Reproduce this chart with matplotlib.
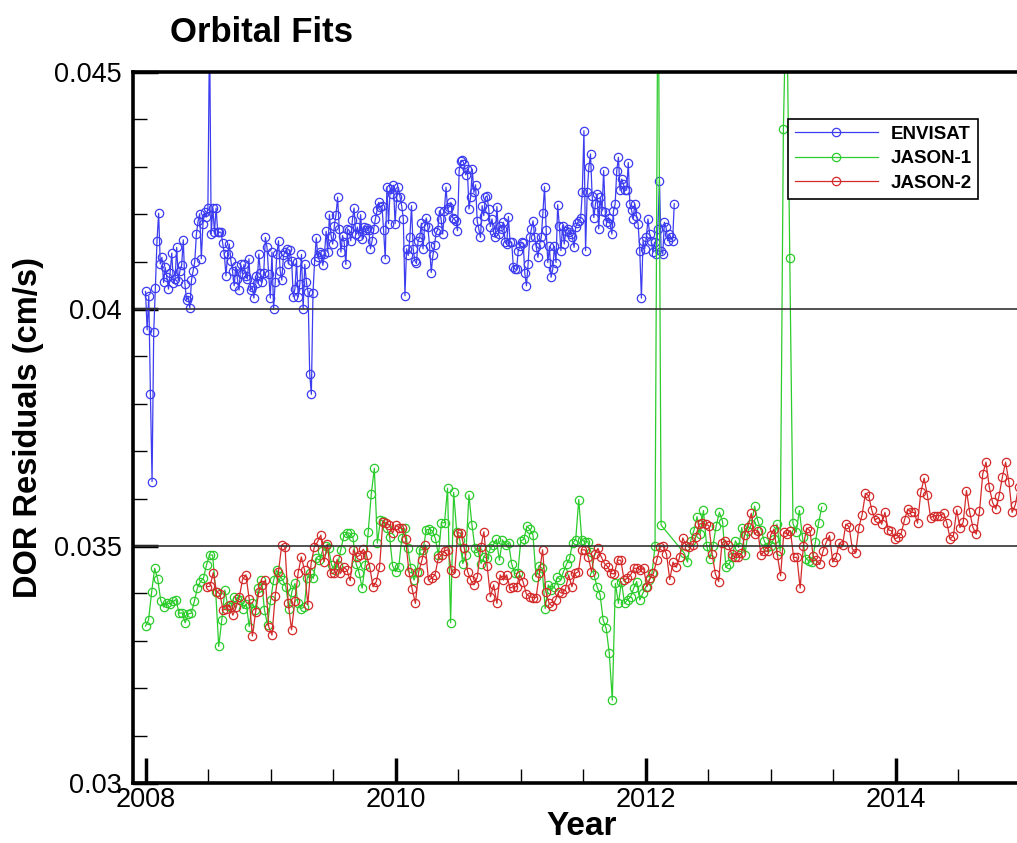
import matplotlib
matplotlib.use("Agg")
import matplotlib.pyplot as plt
import numpy as np
from matplotlib.ticker import MultipleLocator, FuncFormatter

plt.rcParams['font.family'] = ['Liberation Sans', 'DejaVu Sans']

# DOR residuals in units of 1e-5 cm/s
envisat = [4037, 3956, 4027, 3820, 3636, 3951, 4044, 4144, 4202, 4095, 4109, 4056, 4088, 4067, 4042, 4077,
           4118, 4054, 4063, 4130, 4060, 4081, 4092, 4146, 4053, 4019, 4025, 4002, 4061, 4081, 4100, 4158,
           4185, 4201, 4106, 4180, 4204, 4194, 4213, 4600, 4158, 4213, 4162, 4213, 4162, 4162, 4162, 4139,
           4116, 4070, 4116, 4137, 4102, 4080, 4049, 4090, 4063, 4040, 4094, 4074, 4094, 4070, 4063, 4106,
           4040, 4046, 4023, 4070, 4054, 4116, 4076, 4056, 4077, 4151, 4130, 4074, 4023, 4120, 4000, 4056,
           4115, 4144, 4081, 4061, 4113, 4120, 4127, 4095, 4125, 4101, 4026, 4042, 4099, 4025, 4053, 4115,
           4000, 4094, 4056, 4035, 3863, 3820, 4034, 4102, 4150, 4109, 4120, 4116, 4092, 4116, 4164, 4120,
           4199, 4155, 4137, 4176, 4199, 4236, 4169, 4120, 4155, 4141, 4094, 4169, 4166, 4144, 4188, 4213,
           4158, 4173, 4155, 4199, 4148, 4173, 4166, 4171, 4166, 4127, 4144, 4169, 4190, 4208, 4225, 4215,
           4218, 4166, 4106, 4257, 4180, 4254, 4243, 4261, 4180, 4237,
           4257, 4236, 4218, 4190, 4028, 4127, 4113, 4151, 4218, 4127, 4102, 4096, 4144, 4151, 4181, 4127,
           4176, 4192, 4172, 4132, 4077, 4113, 4134, 4162, 4167, 4207, 4190, 4158, 4207, 4257, 4211, 4216,
           4225, 4193, 4190, 4185, 4165, 4292, 4313, 4314, 4306, 4283, 4295, 4211, 4236, 4295, 4246, 4262,
           4186, 4169, 4151, 4218, 4197, 4236, 4239, 4211, 4174, 4190, 4162, 4151, 4216, 4158, 4176, 4169,
           4183, 4141, 4137, 4195, 4141, 4141, 4089, 4084, 4084, 4123, 4132, 4141, 4139, 4075, 4049, 4095,
           4151, 4169, 4186, 4151, 4130, 4109, 4137, 4151, 4202, 4258, 4167, 4098, 4132, 4067, 4084, 4132,
           4098, 4220, 4176, 4123, 4176, 4137, 4164, 4169, 4162, 4158, 4151, 4130, 4174, 4181, 4186, 4192,
           4246, 4376, 4123, 4246, 4299, 4327, 4239, 4193, 4221, 4242, 4169, 4236, 4207, 4292, 4204, 4183,
           4193, 4179, 4158, 4207, 4221, 4292, 4320, 4250, 4274, 4264, 4250, 4251, 4309, 4221, 4209, 4190,
           4221, 4197, 4179, 4123, 4023, 4144, 4127, 4151, 4190, 4158, 4144, 4120, 4141, 4116,
           4169, 4271, 4123, 4116, 4183, 4172, 4144, 4158, 4151, 4144, 4222]

jason1_a = [3331, 3344, 3402, 3453, 3430, 3385, 3371, 3380, 3378, 3383, 3387, 3358, 3359, 3338, 3357, 3358,
            3383, 3411, 3425, 3432, 3460, 3481, 3481, 3404, 3288, 3344, 3407, 3373, 3371, 3393, 3389, 3387,
            3368, 3378, 3330, 3380, 3365, 3411, 3428, 3365, 3333, 3386, 3428, 3449, 3437, 3428, 3414, 3368,
            3404, 3421, 3379, 3368, 3371, 3432, 3442, 3432, 3474, 3470, 3490, 3500, 3495, 3460, 3449, 3460,
            3492, 3521, 3528, 3527, 3518, 3463, 3444, 3411, 3460, 3530, 3610, 3664, 3506, 3555, 3552, 3537,
            3520,
            3458, 3446, 3456, 3516, 3537, 3495, 3453, 3428, 3446, 3492, 3492, 3534, 3535, 3532, 3516, 3481,
            3549, 3549, 3622, 3338, 3613, 3530, 3513, 3463, 3481, 3608, 3544, 3495, 3488, 3463, 3477, 3474,
            3495, 3502, 3514, 3470, 3513, 3502, 3506, 3463, 3442, 3442, 3511, 3514, 3542, 3535, 3523, 3435,
            3458, 3453, 3368, 3418, 3407, 3414, 3435, 3428, 3446, 3462, 3474, 3507, 3513, 3598, 3513, 3509,
            3509, 3488, 3439, 3414, 3397, 3344, 3326, 3274, 3175, 3421, 3379, 3425, 3379, 3386, 3393, 3411,
            3425, 3386, 3400, 3414, 3428, 3442, 3500, 4800, 3544]

jason1_b = [3485, 3466, 3511, 3532, 3562, 3525, 3575, 3501, 3473, 3501, 3543, 3571, 3551, 3455, 3462, 3476,
            3511, 3497, 3539, 3482, 3532, 3546, 3584, 3553, 3534, 3511, 3497, 3501, 3515, 3546, 3490, 4380,
            4700, 4107, 3548, 3529, 3575, 3518, 3473, 3469, 3466, 3508, 3548, 3582]

jason2 = [3414, 3415, 3444, 3404, 3399, 3365, 3367, 3376, 3354, 3371, 3393, 3430, 3439, 3389, 3310, 3361,
          3404, 3418, 3428, 3330, 3312, 3395, 3446, 3502, 3498, 3379, 3323, 3383, 3442, 3477, 3449, 3376,
          3463, 3498, 3509, 3523, 3467, 3504, 3442, 3442, 3472, 3442, 3456, 3449, 3427, 3492, 3477, 3481,
          3493, 3481, 3455, 3414, 3425, 3456, 3551, 3548, 3544, 3527, 3544, 3539, 3537,
          3514, 3446, 3409, 3379, 3446, 3470, 3502, 3428, 3432, 3439, 3474, 3481, 3490, 3492, 3449, 3442,
          3528, 3527, 3495, 3446, 3428, 3418, 3435, 3497, 3530, 3458, 3393, 3418, 3379, 3439, 3428, 3439,
          3411, 3414, 3414, 3439, 3425, 3399, 3393, 3391, 3391, 3442, 3492, 3404, 3379, 3373, 3387, 3404,
          3400, 3409, 3439, 3414, 3442, 3446, 3492, 3492, 3477, 3446, 3484, 3495, 3477, 3463, 3456, 3442,
          3441, 3470, 3470, 3428, 3432, 3439, 3453, 3453, 3449, 3453, 3414, 3432, 3442, 3470, 3498,
          3499, 3483, 3429, 3466, 3455, 3476, 3517, 3501, 3497, 3502, 3520, 3546, 3548, 3546, 3543, 3483,
          3441, 3425, 3506, 3511, 3502, 3483, 3476, 3476, 3485, 3524, 3541, 3569, 3525, 3532, 3480, 3490,
          3489, 3524, 3536, 3481, 3437, 3529, 3525, 3532, 3476, 3476, 3411, 3501, 3538, 3532, 3478, 3470,
          3461, 3489, 3508, 3522, 3466, 3477, 3506, 3502, 3546, 3541, 3494, 3485, 3539, 3566, 3611, 3606,
          3575, 3555, 3560, 3546, 3571, 3534, 3532, 3515, 3518, 3527, 3555, 3578, 3571, 3571, 3548, 3613,
          3643, 3608, 3560, 3564, 3564, 3564, 3569, 3548, 3515, 3522, 3576, 3539, 3550, 3617, 3571, 3539,
          3525, 3573, 3652, 3677, 3624, 3592, 3578, 3606, 3645, 3677, 3636, 3571, 3587, 3625]

# time span (decimal year) covered by each series
envisat_span = (2008.0, 2012.23)
jason1_span_a = (2008.0, 2012.125)
jason1_span_b = (2012.31, 2013.41)
jason2_span = (2008.49, 2014.985)

t_env = np.linspace(envisat_span[0], envisat_span[1], len(envisat))
t_j1 = np.concatenate([np.linspace(jason1_span_a[0], jason1_span_a[1], len(jason1_a)),
                       np.linspace(jason1_span_b[0], jason1_span_b[1], len(jason1_b))])
t_j2 = np.linspace(jason2_span[0], jason2_span[1], len(jason2))
y_env = np.array(envisat) * 1e-5
y_j1 = np.array(jason1_a + jason1_b) * 1e-5
y_j2 = np.array(jason2) * 1e-5

fig = plt.figure(figsize=(10.17, 8.43), dpi=100)
ax = fig.add_axes([133 / 1017, 60 / 843, 887.5 / 1017, 711 / 843])

style = dict(lw=0.9, marker='o', ms=6, mfc='none', mew=0.9)
ax.plot(t_env, y_env, color='#3c3cf0', label='ENVISAT', **style)
ax.plot(t_j1, y_j1, color='#2ccc2c', label='JASON-1', **style)
ax.plot(t_j2, y_j2, color='#d42a2a', label='JASON-2', **style)

for yv in (0.035, 0.04):
    ax.axhline(yv, color='#333333', lw=1.2, zorder=2.5)

ax.set_xlim(2007.9, 2015.0)
ax.set_ylim(0.03, 0.045)
ax.xaxis.set_major_locator(MultipleLocator(2))
ax.xaxis.set_minor_locator(MultipleLocator(0.5))
ax.yaxis.set_major_locator(MultipleLocator(0.005))
ax.yaxis.set_minor_locator(MultipleLocator(0.001))
ax.yaxis.set_major_formatter(FuncFormatter(lambda v, p: f"{v:g}"))
ax.xaxis.set_major_formatter(FuncFormatter(lambda v, p: f"{v:.0f}"))

ax.tick_params(which='major', direction='in', length=18, width=2.5, labelsize=19.5)
ax.tick_params(which='minor', direction='in', length=10, width=1)
ax.tick_params(axis='y', pad=8)
ax.tick_params(axis='x', pad=3)

for side in ('left', 'bottom', 'top'):
    ax.spines[side].set_linewidth(2.6)
ax.spines['right'].set_visible(False)

ax.set_ylabel('DOR Residuals (cm/s)', fontsize=23.5, fontweight='bold')
ax.yaxis.set_label_coords(-0.10, 0.5)
ax.set_xlabel('Year', fontsize=24, fontweight='bold')
ax.xaxis.set_label_coords(0.506, -0.040)

fig.text(170 / 1017, 1 - 32 / 843, 'Orbital Fits', fontsize=25, fontweight='bold', ha='left', va='center')

leg = ax.legend(loc='upper left', bbox_to_anchor=(0.728, 0.947), prop={'weight': 'bold', 'size': 13.5},
                handlelength=4.4, handletextpad=0.7, labelspacing=0.4, borderpad=0.35,
                fancybox=False, framealpha=1, edgecolor='black')
leg.get_frame().set_linewidth(1.2)

fig.savefig('out.png', dpi=100)
